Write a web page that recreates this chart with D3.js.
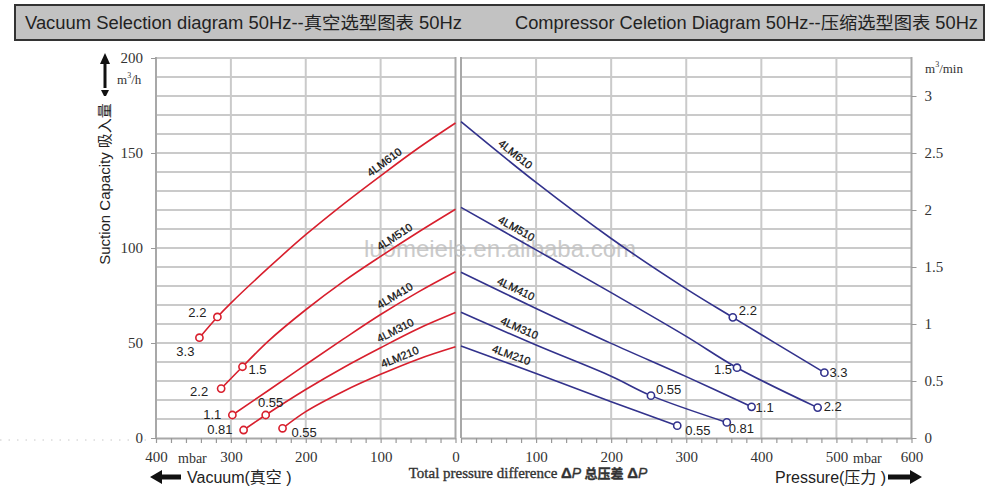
<!DOCTYPE html>
<html><head><meta charset="utf-8">
<script src="https://cdn.jsdelivr.net/npm/d3@7"></script>
<style>
body{margin:0;background:#fff;}
svg{display:block;}
</style></head>
<body>
<svg id="chart" width="1000" height="495"></svg>
<script>
// ---------------- DATA ----------------
const titleLeft = "Vacuum Selection diagram 50Hz--真空选型图表  50Hz";
const titleRight = "Compressor Celetion Diagram 50Hz--压缩选型图表 50Hz";
const models = ["4LM610","4LM510","4LM410","4LM310","4LM210"];

// vacuum side: [mbar vacuum, m3/h]
const vac610 = [[342,52.8],[318,63.7],[300,71],[250,89.5],[200,107],[150,123],[100,138],[50,152.5],[0,165.8]];
const vac510 = [[313,26],[284.5,37.5],[250,51],[200,67.5],[150,82.3],[100,95.6],[50,108.3],[0,120.4]];
const vac410 = [[298,12.1],[250,25],[200,38.6],[150,52],[100,65],[50,76.8],[0,87.5]];
const vac310 = [[283,4.2],[253.5,12.1],[200,25.5],[150,37],[100,47.5],[50,57.5],[0,66]];
const vac210 = [[231,5.1],[200,13.9],[150,24.5],[100,33.5],[50,41.5],[0,48]];
const vacCurves = [vac610, vac510, vac410, vac310, vac210];

// pressure side: [mbar pressure, m3/h]
const pre610 = [[0,166.5],[100,134.5],[200,105],[300,78.5],[362,63.5],[484,34.4]];
const pre510 = [[0,121.4],[100,99],[200,76.5],[300,53.5],[367.6,37],[475,16]];
const pre410 = [[0,87.2],[100,68.2],[200,49.8],[300,32.3],[387,16.4]];
const pre310 = [[0,66.2],[100,48.9],[200,32.5],[253,22.3],[354,8.2]];
const pre210 = [[0,48.4],[100,34],[200,19.1],[288,6.5]];
const preCurves = [pre610, pre510, pre410, pre310, pre210];

// marked operating points: [curve index, mbar, m3/h, motor kW label]
const vacPoints = [[0,342,52.8,"3.3"],[0,318,63.7,"2.2"],[1,313,26,"2.2"],[1,284.5,37.5,"1.5"],[2,298,12.1,"1.1"],[3,283,4.2,"0.81"],[3,253.5,12.1,"0.55"],[4,231,5.1,"0.55"]];
const prePoints = [[0,362,63.5,"2.2"],[0,484,34.4,"3.3"],[1,367.6,37,"1.5"],[1,475,16,"2.2"],[2,387,16.4,"1.1"],[3,253,22.3,"0.55"],[3,354,8.2,"0.81"],[4,288,6.5,"0.55"]];

// label placement (style): [anchor, dx, dy]
const vacPointLabelPos = [["end",-5,15],["end",-11,-3],["end",-13,4],["start",6,4],["end",-11,1],["end",-11,1],["middle",5,-11],["start",9,5]];
const prePointLabelPos = [["start",6,-6],["start",5,1],["end",-5,3],["start",6,0],["start",4,2],["start",5,-5],["start",2,7],["start",8,6]];
// model label position along curve (mbar)
const vacLabelAt = [88,75,75,75,70];
const preLabelAt = [65,68,68,73,63];

const vacTicks = [400,300,200,100,0];
const preTicks = [100,200,300,400,500,600];
const leftYTicks = [0,50,100,150,200];
const rightYTicks = [0,0.5,1,1.5,2,2.5,3];

// ---------------- CHART ----------------
const svg = d3.select("#chart");
const SANS = "'Liberation Sans', Arial, 'Noto Sans CJK SC', sans-serif";
const SERIF = "'Liberation Serif', 'Times New Roman', 'Noto Sans CJK SC', serif";
const RED = "#d81f2d", BLUE = "#32328c", GRID = "#cacaca", AXIS = "#a8a8a8";

const xL = d3.scaleLinear().domain([400,0]).range([156,455.5]);
const xR = d3.scaleLinear().domain([0,600]).range([461,911.5]);
const y = d3.scaleLinear().domain([0,200]).range([438,58]);
const y2 = d3.scaleLinear().domain([0,200/60]).range([438,58]);

// header
svg.append("rect").attr("x",15).attr("y",5).attr("width",969).attr("height",35)
  .attr("fill","#c2c2c2").attr("stroke","#333").attr("stroke-width",2);
svg.append("text").attr("x",25).attr("y",28.5).attr("font-family",SANS).attr("font-size",17.5)
  .attr("textLength",437).attr("lengthAdjust","spacingAndGlyphs")
  .attr("fill","#222").text(titleLeft);
svg.append("text").attr("x",515).attr("y",28.5).attr("font-family",SANS).attr("font-size",17.5)
  .attr("textLength",463).attr("lengthAdjust","spacingAndGlyphs")
  .attr("fill","#222").text(titleRight);

// dotted artifact line
svg.append("line").attr("x1",0).attr("x2",150).attr("y1",440).attr("y2",440)
  .attr("stroke","#c8c8c8").attr("stroke-dasharray","1.5,7");

// grids
const gGrid = svg.append("g");
const hVals = d3.range(10,201,10);
[[xL,400,0],[xR,0,600]].forEach(([sx,a,b])=>{
  gGrid.selectAll(null).data(hVals).enter().append("line")
    .attr("x1",sx(a)).attr("x2",sx(b)).attr("y1",d=>y(d)).attr("y2",d=>y(d))
    .attr("stroke",GRID).attr("stroke-width",2);
});
gGrid.selectAll(null).data([300,200,100]).enter().append("line")
  .attr("x1",d=>xL(d)).attr("x2",d=>xL(d)).attr("y1",y(0)).attr("y2",y(200))
  .attr("stroke",GRID).attr("stroke-width",2);
gGrid.selectAll(null).data([100,200,300,400,500]).enter().append("line")
  .attr("x1",d=>xR(d)).attr("x2",d=>xR(d)).attr("y1",y(0)).attr("y2",y(200))
  .attr("stroke",GRID).attr("stroke-width",2);
// panel borders
[[xL(400)],[xL(0)],[xR(0)],[xR(600)]].forEach(([px])=>{
  svg.append("line").attr("x1",px).attr("x2",px).attr("y1",y(0)).attr("y2",y(200)-1)
    .attr("stroke",AXIS).attr("stroke-width",2);
});

// bottom axes (minor ticks every 20)
function styleAxis(g){
  g.select(".domain").attr("stroke",AXIS).attr("stroke-width",2);
  g.selectAll(".tick line").attr("stroke","#999").attr("stroke-width",1.2);
  g.selectAll("text").attr("font-family",SERIF).attr("font-size",15).attr("fill","#333");
}
const axL = svg.append("g").attr("transform",`translate(0,${y(0)})`)
  .call(d3.axisBottom(xL).tickValues(d3.range(0,401,20)).tickSize(5).tickSizeOuter(0)
    .tickFormat(d=>vacTicks.includes(d)?d:"").tickPadding(8));
styleAxis(axL);
const axR = svg.append("g").attr("transform",`translate(0,${y(0)})`)
  .call(d3.axisBottom(xR).tickValues(d3.range(0,601,20)).tickSize(5).tickSizeOuter(0)
    .tickFormat(d=>preTicks.includes(d)?d:"").tickPadding(8));
styleAxis(axR);

// y axes
const ayL = svg.append("g").attr("transform",`translate(${xL(400)},0)`)
  .call(d3.axisLeft(y).tickValues(leftYTicks).tickSize(5).tickSizeOuter(0).tickPadding(8));
ayL.select(".domain").remove();
ayL.selectAll(".tick line").attr("stroke","#999");
ayL.selectAll("text").attr("font-family",SERIF).attr("font-size",15).attr("fill","#333");
const ayR = svg.append("g").attr("transform",`translate(${xR(600)},0)`)
  .call(d3.axisRight(y2).tickValues(rightYTicks).tickSize(5).tickSizeOuter(0).tickPadding(8).tickFormat(d=>d));
ayR.select(".domain").remove();
ayR.selectAll(".tick line").attr("stroke","#999");
ayR.selectAll("text").attr("font-family",SERIF).attr("font-size",15).attr("fill","#333");

// units
const unitL = svg.append("text").attr("x",117).attr("y",84).attr("font-family",SERIF).attr("font-size",13).attr("fill","#333");
unitL.append("tspan").text("m");
unitL.append("tspan").attr("font-size",8).attr("dy",-6).text("3");
unitL.append("tspan").attr("dy",6).text("/h");
const unitR = svg.append("text").attr("x",925).attr("y",73).attr("font-family",SERIF).attr("font-size",13).attr("fill","#333");
unitR.append("tspan").text("m");
unitR.append("tspan").attr("font-size",8).attr("dy",-6).text("3");
unitR.append("tspan").attr("dy",6).text("/min");
svg.append("text").attr("x",178).attr("y",463).attr("font-family",SERIF).attr("font-size",14).attr("fill","#333").text("mbar");
svg.append("text").attr("x",853).attr("y",463).attr("font-family",SERIF).attr("font-size",14).attr("fill","#333").text("mbar");

// y title + arrow
svg.append("text").attr("transform","translate(110,184) rotate(-90)").attr("text-anchor","middle")
  .attr("font-family",SANS).attr("font-size",15).attr("fill","#222").text("Suction Capacity 吸入量");
svg.append("line").attr("x1",105).attr("x2",105).attr("y1",88).attr("y2",62).attr("stroke","#111").attr("stroke-width",3);
svg.append("path").attr("d","M105,53 L100,64 L110,64 Z").attr("fill","#111");
svg.append("path").attr("d","M101,90 L109,90 L106,96 L104,96 Z").attr("fill","#111");

// bottom titles
svg.append("path").attr("d","M150,477 L162,470 L162,474.5 L181,474.5 L181,479.5 L162,479.5 L162,484 Z").attr("fill","#111");
svg.append("text").attr("x",187).attr("y",483).attr("font-family",SANS).attr("font-size",16).attr("fill","#222").text("Vacuum(真空 )");
svg.append("path").attr("d","M922,477 L910,470 L910,474.5 L888,474.5 L888,479.5 L910,479.5 L910,484 Z").attr("fill","#111");
svg.append("text").attr("x",775).attr("y",483).attr("font-family",SANS).attr("font-size",16).attr("fill","#222").text("Pressure(压力 )");
const tp = svg.append("text").attr("x",528).attr("y",478).attr("text-anchor","middle").attr("fill","#333")
  .attr("stroke","#333").attr("stroke-width",0.35);
tp.append("tspan").attr("font-family",SERIF).attr("font-size",15).text("Total pressure difference ");
tp.append("tspan").attr("font-family",SANS).attr("font-size",15).attr("font-weight","bold").text("Δ");
tp.append("tspan").attr("font-family",SANS).attr("font-size",14).attr("font-style","italic").text("P ");
tp.append("tspan").attr("font-family",SANS).attr("font-size",13).attr("font-weight","bold").text("总压差 ");
tp.append("tspan").attr("font-family",SANS).attr("font-size",15).attr("font-weight","bold").text("Δ");
tp.append("tspan").attr("font-family",SANS).attr("font-size",14).attr("font-style","italic").text("P");

// watermark
svg.append("text").attr("x",500).attr("y",257).attr("text-anchor","middle").attr("font-family",SANS)
  .attr("font-size",24).attr("fill","#bdbdbd").attr("opacity",0.8).text("luomeiele.en.alibaba.com");

// curves
function drawSide(curves, sx, color, points, pos, labelAt){
  const line = d3.line().x(d=>sx(d[0])).y(d=>y(d[1])).curve(d3.curveCatmullRom.alpha(0.5));
  curves.forEach((c,i)=>{
    const sorted = c.slice().sort((a,b)=>sx(a[0])-sx(b[0]));
    svg.append("path").attr("d",line(sorted)).attr("fill","none").attr("stroke",color).attr("stroke-width",1.6);
    // model label
    const interp = v => {
      const s = c.slice().sort((a,b)=>a[0]-b[0]);
      for(let k=0;k<s.length-1;k++){
        if(v>=s[k][0] && v<=s[k+1][0]){const t=(v-s[k][0])/(s[k+1][0]-s[k][0]);return s[k][1]+t*(s[k+1][1]-s[k][1]);}
      }
      return s[s.length-1][1];
    };
    const v = labelAt[i];
    const p1=[sx(v-15),y(interp(Math.max(0,v-15)))], p2=[sx(v+15),y(interp(v+15))];
    const ang = Math.atan2(p2[1]-p1[1],p2[0]-p1[0]);
    let a = ang*180/Math.PI; if(a>90)a-=180; if(a<-90)a+=180;
    const ar = a*Math.PI/180;
    const px = sx(v) + 8*Math.sin(ar), py = y(interp(v)) - 8*Math.cos(ar);
    svg.append("text").attr("transform",`translate(${px},${py}) rotate(${a})`).attr("text-anchor","middle")
      .attr("dominant-baseline","middle").attr("font-family",SANS).attr("font-size",11)
      .attr("fill","#111").attr("stroke","#111").attr("stroke-width",0.25)
      .text(models[i]);
  });
  points.forEach((p,j)=>{
    const cx=sx(p[1]), cy=y(p[2]);
    svg.append("circle").attr("cx",cx).attr("cy",cy).attr("r",3.6).attr("fill","#fff").attr("stroke",color).attr("stroke-width",1.6);
    const lp = pos[j];
    svg.append("text").attr("x",cx+lp[1]).attr("y",cy+lp[2]).attr("text-anchor",lp[0]).attr("dominant-baseline","middle")
      .attr("font-family",SANS).attr("font-size",13).attr("fill","#222").text(p[3]);
  });
}
drawSide(vacCurves, xL, RED, vacPoints, vacPointLabelPos, vacLabelAt);
drawSide(preCurves, xR, BLUE, prePoints, prePointLabelPos, preLabelAt);
</script>
</body></html>
